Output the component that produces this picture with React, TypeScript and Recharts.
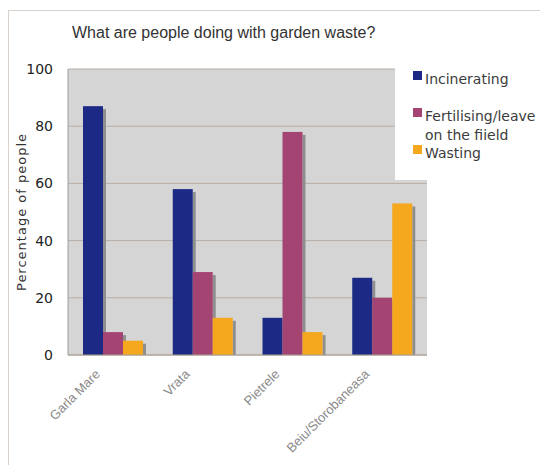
import React from 'react';
import { BarChart, Bar, XAxis, YAxis, CartesianGrid, Legend } from 'recharts';

const villages = ['Garla Mare', 'Vrata', 'Pietrele', 'Beiu/Storobaneasa'];
const incinerating = [87, 58, 13, 27];
const fertilising = [8, 29, 78, 20];
const wasting = [5, 13, 8, 53];
const yTicks = [0, 20, 40, 60, 80, 100];
const seriesOrder = ['incinerating', 'fertilising', 'wasting'];

const data = villages.map((name, i) => ({
  name,
  incinerating: incinerating[i],
  fertilising: fertilising[i],
  wasting: wasting[i],
}));

const sans = '"Liberation Sans", Arial, sans-serif';
const wide = '"DejaVu Sans", Verdana, sans-serif';

// bar with a flat grey drop shadow on its right side
const ShadowBar = (props: any) => {
  const { x, y, width, height, fill } = props;
  if (!height || height <= 0) return null;
  return (
    <g>
      <rect x={x + width} y={y + 3} width={3} height={Math.max(height - 3, 0)} fill="#8e8e8e" />
      <rect x={x} y={y} width={width} height={height} fill={fill} />
    </g>
  );
};

const AngledTick = (props: any) => {
  const { x, y, payload } = props;
  const tx = x - 12;
  const ty = y + 20;
  return (
    <text
      x={tx}
      y={ty}
      transform={`rotate(-45 ${tx} ${ty})`}
      textAnchor="end"
      fill="#8a8a8a"
      fontSize={13}
      fontFamily={sans}
    >
      {payload.value}
    </text>
  );
};

const renderLegend = (props: any) => {
  const items = [...props.payload].sort(
    (a: any, b: any) => seriesOrder.indexOf(a.dataKey) - seriesOrder.indexOf(b.dataKey)
  );
  return (
    <div style={{ paddingTop: 7, paddingLeft: 18 }}>
      {items.map((entry: any) => (
        <div key={entry.value} style={{ display: 'flex', height: 37, alignItems: 'flex-start' }}>
          <span
            style={{
              width: 9,
              height: 9,
              marginTop: 1,
              marginRight: 3,
              background: entry.color,
              flex: 'none',
            }}
          />
          <span
            style={{
              width: 112,
              fontFamily: wide,
              fontSize: 14,
              lineHeight: '18.5px',
              color: '#3c3c3c',
            }}
          >
            {entry.value}
          </span>
        </div>
      ))}
    </div>
  );
};

export default function App() {
  return (
    <div style={{ position: 'relative', width: 532, height: 457, overflow: 'hidden', background: '#fff' }}>
      <div
        style={{
          position: 'absolute',
          left: 0,
          top: 2,
          width: 600,
          height: 500,
          borderLeft: '1px solid #d9d1cb',
          borderTop: '1px solid #d9d1cb',
        }}
      />
      <div
        style={{
          position: 'absolute',
          left: 64,
          top: 16.5,
          fontFamily: sans,
          fontSize: 16,
          lineHeight: '16px',
          color: '#333',
          whiteSpace: 'nowrap',
        }}
      >
        What are people doing with garden waste?
      </div>
      <BarChart
        width={532}
        height={457}
        data={data}
        margin={{ top: 61, right: 113, left: 0, bottom: 0 }}
        barGap={0}
        barSize={20}
      >
        <CartesianGrid vertical={false} fill="#d5d5d5" stroke="#b7aea6" />
        <XAxis
          dataKey="name"
          height={110}
          interval={0}
          tickLine={false}
          tickSize={0}
          tickMargin={0}
          axisLine={{ stroke: '#aa9c8e' }}
          tick={<AngledTick />}
        />
        <YAxis
          width={60}
          domain={[0, 100]}
          ticks={yTicks}
          tickLine={false}
          tickSize={0}
          tickMargin={15}
          axisLine={{ stroke: '#9c9c9c' }}
          tick={{ fill: '#222', fontSize: 14, fontFamily: wide }}
          label={{
            value: 'Percentage of people',
            angle: -90,
            position: 'center',
            dx: -17,
            fill: '#333',
            fontSize: 13,
            fontFamily: wide,
            letterSpacing: 1,
          }}
        />
        <YAxis
          yAxisId="edge"
          orientation="right"
          width={0}
          tick={false}
          tickLine={false}
          axisLine={{ stroke: '#c0c0c0' }}
        />
        <Legend
          layout="vertical"
          align="center"
          verticalAlign="middle"
          content={renderLegend}
          wrapperStyle={{ left: 387, top: 55, width: 145, height: 117, background: '#fff' }}
        />
        <Bar dataKey="incinerating" name="Incinerating" fill="#1c2a86" shape={<ShadowBar />} isAnimationActive={false} />
        <Bar dataKey="fertilising" name="Fertilising/leave on the fiield" fill="#a44473" shape={<ShadowBar />} isAnimationActive={false} />
        <Bar dataKey="wasting" name="Wasting" fill="#f5a71e" shape={<ShadowBar />} isAnimationActive={false} />
      </BarChart>
    </div>
  );
}
